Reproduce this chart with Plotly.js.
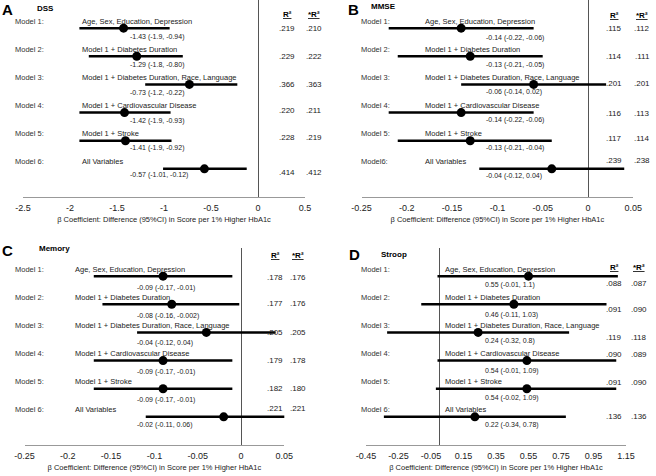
<!DOCTYPE html>
<html>
<head>
<meta charset="utf-8">
<script src="https://cdn.plot.ly/plotly-3.0.1.min.js"></script>
<style>html,body{margin:0;padding:0;background:#fff;}#chart{width:656px;height:476px;}</style>
</head>
<body>
<div id="chart"></div>
<script>
// ---------- DATA ----------
const rows = [1, 2, 3, 4, 5, 6];
const modelLabels = ['Model 1:', 'Model 2:', 'Model 3:', 'Model 4:', 'Model 5:', 'Model 6:'];
const descriptions = ['Age, Sex, Education, Depression', 'Model 1 + Diabetes Duration',
  'Model 1 + Diabetes Duration, Race, Language', 'Model 1 + Cardiovascular Disease',
  'Model 1 + Stroke', 'All Variables'];

// A: DSS
const dssEst = [-1.43, -1.29, -0.73, -1.42, -1.41, -0.57];
const dssLo  = [-1.9, -1.8, -1.2, -1.9, -1.9, -1.01];
const dssHi  = [-0.94, -0.80, -0.22, -0.93, -0.92, -0.12];
const dssCI  = ['-1.43 (-1.9, -0.94)', '-1.29 (-1.8, -0.80)', '-0.73 (-1.2, -0.22)',
  '-1.42 (-1.9, -0.93)', '-1.41 (-1.9, -0.92)', '-0.57 (-1.01, -0.12)'];
const dssR2  = ['.219', '.229', '.366', '.220', '.228', '.414'];
const dssAdj = ['.210', '.222', '.363', '.211', '.219', '.412'];

// B: MMSE
const mmseEst = [-0.14, -0.13, -0.06, -0.14, -0.13, -0.04];
const mmseLo  = [-0.22, -0.21, -0.14, -0.22, -0.21, -0.12];
const mmseHi  = [-0.06, -0.05, 0.02, -0.06, -0.04, 0.04];
const mmseCI  = ['-0.14 (-0.22, -0.06)', '-0.13 (-0.21, -0.05)', '-0.06 (-0.14, 0.02)',
  '-0.14 (-0.22, -0.06)', '-0.13 (-0.21, -0.04)', '-0.04 (-0.12, 0.04)'];
const mmseR2  = ['.115', '.114', '.201', '.116', '.117', '.239'];
const mmseAdj = ['.112', '.111', '.201', '.113', '.114', '.238'];

// C: Memory
const memEst = [-0.09, -0.08, -0.04, -0.09, -0.09, -0.02];
const memLo  = [-0.17, -0.16, -0.12, -0.17, -0.17, -0.11];
const memHi  = [-0.01, -0.002, 0.04, -0.01, -0.01, 0.06];
const memCI  = ['-0.09 (-0.17, -0.01)', '-0.08 (-0.16, -0.002)', '-0.04 (-0.12, 0.04)',
  '-0.09 (-0.17, -0.01)', '-0.09 (-0.17, -0.01)', '-0.02 (-0.11, 0.06)'];
const memR2  = ['.178', '.177', '.205', '.179', '.182', '.221'];
const memAdj = ['.176', '.176', '.205', '.178', '.180', '.221'];

// D: Stroop
const strEst = [0.55, 0.46, 0.24, 0.54, 0.54, 0.22];
const strLo  = [-0.01, -0.11, -0.32, -0.01, -0.02, -0.34];
const strHi  = [1.1, 1.03, 0.8, 1.09, 1.09, 0.78];
const strCI  = ['0.55 (-0.01, 1.1)', '0.46 (-0.11, 1.03)', '0.24 (-0.32, 0.8)',
  '0.54 (-0.01, 1.09)', '0.54 (-0.02, 1.09)', '0.22 (-0.34, 0.78)'];
const strR2  = ['.088', '.091', '.119', '.090', '.091', '.136'];
const strAdj = ['.087', '.090', '.118', '.089', '.090', '.136'];

const ticksDSS = [-2.5, -2, -1.5, -1, -0.5, 0, 0.5];
const ticksSmall = [-0.25, -0.2, -0.15, -0.1, -0.05, 0, 0.05];
const ticksSmallText = ['-0.25', '-0.2', '-0.15', '-0.1', '-0.05', '0', '0.05'];
const ticksStroop = [-0.45, -0.25, -0.05, 0.15, 0.35, 0.55, 0.75, 0.95, 1.15];
const ticksStroopText = ['-0.45', '-0.25', '-0.05', '0.15', '0.35', '0.55', '0.75', '0.95', '1.15'];

const xTitle = 'β Coefficient: Difference (95%CI) in Score per 1% Higher HbA1c';
const r2Head = 'R²';
const adjHead = '*R²';

// ---------- LAYOUT ----------
const W = 656, H = 476;
const FONT = 'Liberation Sans, Arial, sans-serif';
const px = v => v / W;
const py = v => 1 - v / H;

const panels = [
  {letter: 'A', name: 'DSS', est: dssEst, lo: dssLo, hi: dssHi, ci: dssCI, r2: dssR2, adj: dssAdj,
   labels: modelLabels, ticks: ticksDSS, tickText: ticksDSS.map(String),
   range: [-2.5, 0.5], xdom: [23, 305], ydom: [0, 197],
   labelX: 13, descX: 80, ciX: 128, r2X: 287, adjX: 314, headY: 14,
   lblOff: -7, ciOff: [9, 9, 9, 8, 7, 6], r2Off: [0, 0, 0, -2, -3, 4],
   letterX: 0, letterY: 9, nameX: 35, nameY: 8},
  {letter: 'B', name: 'MMSE', est: mmseEst, lo: mmseLo, hi: mmseHi, ci: mmseCI, r2: mmseR2, adj: mmseAdj,
   labels: ['Model 1:', 'Model 2:', 'Model 3:', 'Model 4:', 'Model 5:', 'Model6:'],
   ticks: ticksSmall, tickText: ticksSmallText,
   range: [-0.25, 0.05], xdom: [361.5, 633.3], ydom: [0, 197],
   labelX: 359, descX: 423, ciX: 484, r2X: 614, adjX: 642, headY: 15,
   lblOff: -7, ciOff: [10, 9, 8, 7, 7, 7], r2Off: [0, 0, -1, 1, -2, -8],
   letterX: 346, letterY: 9, nameX: 369, nameY: 7},
  {letter: 'C', name: 'Memory', est: memEst, lo: memLo, hi: memHi, ci: memCI, r2: memR2, adj: memAdj,
   labels: modelLabels, ticks: ticksSmall, tickText: ticksSmallText,
   range: [-0.25, 0.05], xdom: [24.5, 284.3], ydom: [248, 445],
   labelX: 13, descX: 73, ciX: 135, r2X: 275, adjX: 298, headY: 255,
   lblOff: -7, ciOff: [12, 12, 11, 11, 11, 8], r2Off: [1, -1, 0, 0, 0, -8],
   letterX: 0, letterY: 250, nameX: 37, nameY: 248},
  {letter: 'D', name: 'Stroop', est: strEst, lo: strLo, hi: strHi, ci: strCI, r2: strR2, adj: strAdj,
   labels: modelLabels, ticks: ticksStroop, tickText: ticksStroopText,
   range: [-0.45, 1.15], xdom: [366, 626], ydom: [248, 445],
   labelX: 359, descX: 443, ciX: 483, r2X: 614, adjX: 639, headY: 267,
   lblOff: -7, ciOff: [9, 11, 9, 10, 9, 8], r2Off: [7, 5, 5, -6, -6, 0],
   letterX: 347, letterY: 254, nameX: 379, nameY: 254}
];

const data = [];
const annotations = [];
const layout = {
  width: W, height: H,
  margin: {l: 0, r: 0, t: 0, b: 0},
  paper_bgcolor: '#fff', plot_bgcolor: 'rgba(0,0,0,0)',
  showlegend: false,
  font: {family: FONT, size: 8, color: '#222'},
  annotations: annotations
};

panels.forEach((p, i) => {
  const n = i === 0 ? '' : String(i + 1);
  const xa = 'x' + n, ya = 'y' + n;
  data.push({
    type: 'scatter', mode: 'markers',
    x: p.est, y: rows, xaxis: xa, yaxis: ya,
    marker: {color: '#000', size: 9},
    error_x: {type: 'data', symmetric: false,
      array: p.hi.map((h, k) => h - p.est[k]),
      arrayminus: p.lo.map((l, k) => p.est[k] - l),
      color: '#000', thickness: 2.5, width: 0},
    hoverinfo: 'skip', cliponaxis: false
  });
  layout['xaxis' + n] = {
    domain: [px(p.xdom[0]), px(p.xdom[1])], range: p.range, anchor: ya,
    showgrid: false, zeroline: true, zerolinecolor: '#555', zerolinewidth: 1,
    showline: true, linecolor: '#999', linewidth: 1,
    ticks: '', tickvals: p.ticks, ticktext: p.tickText,
    tickfont: {family: FONT, size: 9, color: '#222'}, ticklabelstandoff: 2,
    title: {text: xTitle, font: {family: FONT, size: 7.5, color: '#222'}, standoff: 4},
    fixedrange: true
  };
  layout['yaxis' + n] = {
    domain: [py(p.ydom[1]), py(p.ydom[0])], range: [7, 0], anchor: xa,
    showgrid: false, zeroline: false, showline: false, showticklabels: false, ticks: '',
    fixedrange: true
  };
  const A = (text, x, yOpts, extra) => annotations.push(Object.assign({
    text: text, x: px(x), xref: 'paper', xanchor: 'left', yanchor: 'middle',
    showarrow: false, font: {family: FONT, size: 8, color: '#222'}
  }, yOpts, extra || {}));
  // panel letter and name
  A(p.letter, p.letterX, {y: py(p.letterY), yref: 'paper'}, {font: {family: FONT, size: 15, weight: 'bold', color: '#000'}});
  A(p.name, p.nameX, {y: py(p.nameY), yref: 'paper'}, {font: {family: FONT, size: 8, weight: 'bold', color: '#000'}});
  // headers
  A(r2Head, p.r2X, {y: py(p.headY), yref: 'paper'}, {xanchor: 'center', font: {family: FONT, size: 8, weight: 'bold', lineposition: 'under', color: '#000'}});
  A(adjHead, p.adjX, {y: py(p.headY), yref: 'paper'}, {xanchor: 'center', font: {family: FONT, size: 8, weight: 'bold', lineposition: 'under', color: '#000'}});
  rows.forEach((r, k) => {
    A(p.labels[k], p.labelX, {y: r, yref: ya, yshift: -p.lblOff}, {font: {family: FONT, size: 7.5, color: '#333'}});
    A(descriptions[k], p.descX, {y: r, yref: ya, yshift: -p.lblOff}, {font: {family: FONT, size: 7.5, color: '#222'}});
    A(p.ci[k], p.ciX, {y: r, yref: ya, yshift: -p.ciOff[k]}, {font: {family: FONT, size: 7, color: '#222'}});
    A(p.r2[k], p.r2X, {y: r, yref: ya, yshift: -p.r2Off[k]}, {xanchor: 'center', font: {family: FONT, size: 8, color: '#222'}});
    A(p.adj[k], p.adjX, {y: r, yref: ya, yshift: -p.r2Off[k]}, {xanchor: 'center', font: {family: FONT, size: 8, color: '#222'}});
  });
});

Plotly.newPlot('chart', data, layout, {displayModeBar: false, staticPlot: true});
</script>
</body>
</html>
